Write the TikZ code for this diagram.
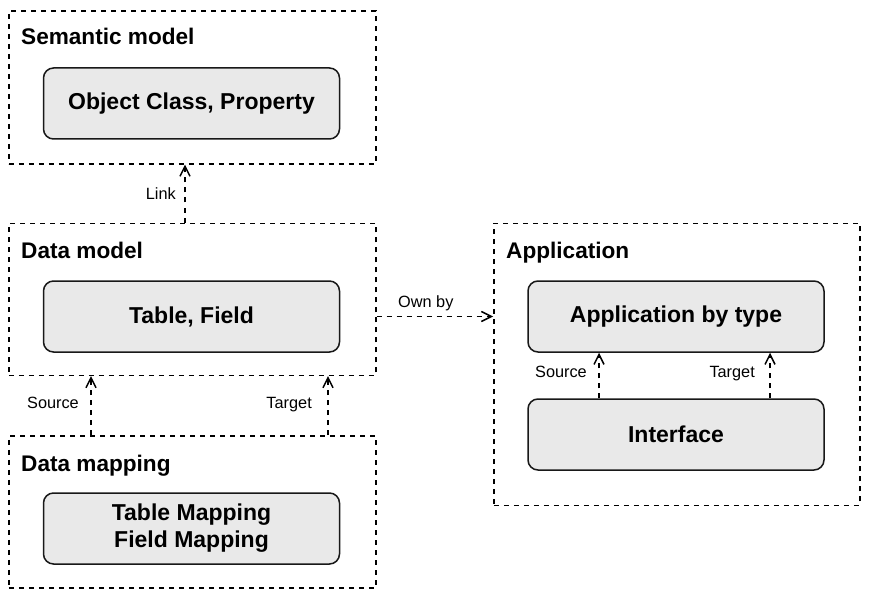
\documentclass[tikz,border=0pt]{standalone}
\usepackage{fontspec}
\setmainfont{Liberation Sans}
\usetikzlibrary{arrows.meta}
\definecolor{boxfill}{HTML}{E9E9E9}
\definecolor{ink}{HTML}{181818}
\tikzset{
  frame/.style={draw=black, line width=1.6pt, dash pattern=on 5pt off 5pt, anchor=north west, inner sep=0pt, fill=none},
  ftitle/.style={anchor=base west, inner sep=0pt, font=\fontsize{22.6}{26}\selectfont\bfseries},
  box/.style={draw=ink, line width=1.5pt, fill=boxfill, rounded corners=10pt, minimum width=296pt, minimum height=71pt, inner sep=0pt, align=center, font=\fontsize{23}{27}\selectfont\bfseries},
  conn/.style={draw=black, line width=1.6pt, dash pattern=on 5pt off 5pt, -{Straight Barb[length=10pt,width=10pt,line width=1.5pt]}},
  lbl/.style={inner sep=0pt, font=\fontsize{16.3}{18}\selectfont},
}
\begin{document}
\begin{tikzpicture}[x=1pt,y=-1pt]
\useasboundingbox (0,0) rectangle (876,591);
\fill[white] (0,0) rectangle (876,591);
% frames
\node[frame, minimum width=367pt, minimum height=153pt] (sm) at (8,10) {};
\node[frame, minimum width=367pt, minimum height=152pt] (dm) at (8,222.5) {};
\node[frame, minimum width=367pt, minimum height=152pt] (dmap) at (8,435) {};
\node[frame, minimum width=366pt, minimum height=282pt] (app) at (493,222.5) {};
% titles
\node[ftitle] (smt) at (21,45) {Semantic model};
\node[ftitle] (dmt) at (21,258) {Data model};
\node[ftitle] (dmapt) at (21,471) {Data mapping};
\node[ftitle] (appt) at (506,258) {Application};
% boxes
\node[box] (oc) at (191.5,103.5) {Object Class, Property};
\node[box] (tf) at (191.5,316.5) {Table, Field};
\node[box] (tm) at (191.5,528.5) {Table Mapping\\Field Mapping};
\node[box] (abt) at (676,316.5) {Application by type};
\node[box] (intf) at (676,434.5) {Interface};
% connector x positions
\coordinate (xl) at (185,0);
\coordinate (xs) at (91,0);
\coordinate (xt) at (328,0);
\coordinate (xas) at (599,0);
\coordinate (xat) at (770,0);
\coordinate (yo) at (0,316.5);
% connectors
\draw[conn] (dm.north -| xl) -- (sm.south -| xl);
\draw[conn] (dmap.north -| xs) -- (dm.south -| xs);
\draw[conn] (dmap.north -| xt) -- (dm.south -| xt);
\draw[conn] (dm.east |- yo) -- (app.west |- yo);
\draw[conn] (intf.north -| xas) -- (abt.south -| xas);
\draw[conn] (intf.north -| xat) -- (abt.south -| xat);
% labels
\node[lbl, anchor=base east] (llink) at (176,200) {Link};
\node[lbl, anchor=base west] (lown) at (398,307) {Own by};
\node[lbl, anchor=base east] (lsrc) at (79,408) {Source};
\node[lbl, anchor=base east] (ltgt) at (312,408) {Target};
\node[lbl, anchor=base east] (lasrc) at (587,377) {Source};
\node[lbl, anchor=base east] (latgt) at (755,377) {Target};
\end{tikzpicture}
\end{document}
